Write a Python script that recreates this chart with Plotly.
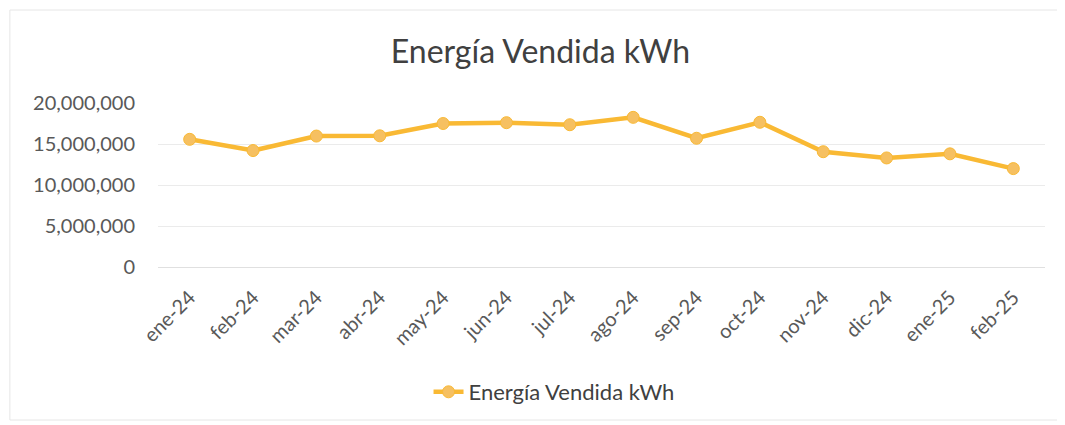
import plotly.graph_objects as go

meses = ["ene-24", "feb-24", "mar-24", "abr-24", "may-24", "jun-24", "jul-24",
         "ago-24", "sep-24", "oct-24", "nov-24", "dic-24", "ene-25", "feb-25"]
energia = [15570000, 14200000, 15970000, 16000000, 17500000, 17600000, 17350000,
           18250000, 15700000, 17650000, 14060000, 13300000, 13800000, 12000000]
y_ticks = [0, 5000000, 10000000, 15000000, 20000000]
y_labels = ["0", "5,000,000", "10,000,000", "15,000,000", "20,000,000"]

FONT = "Lato, 'Open Sans', sans-serif"

fig = go.Figure()
fig.add_trace(go.Scatter(
    x=meses, y=energia, mode="lines+markers", name="Energía Vendida kWh",
    line=dict(color="#F9B934", width=4.5),
    marker=dict(size=12, color="#F6C061", line=dict(color="#F9B934", width=1)),
))

fig.update_layout(
    width=1065, height=425,
    margin=dict(l=150, r=28, t=95, b=166, autoexpand=False),
    paper_bgcolor="white", plot_bgcolor="white",
    font=dict(family=FONT, color="#595959", size=20),
    title=dict(text="Energía Vendida kWh", x=0.5, xanchor="center",
               y=1 - 44 / 425, yanchor="middle", yref="container",
               font=dict(size=32, color="#404040", family=FONT)),
    showlegend=True,
    legend=dict(orientation="h", x=0.305, xanchor="left", y=1 - 384 / 425,
                yanchor="middle", yref="container",
                font=dict(size=22, color="#404040")),
    shapes=[dict(type="rect", xref="paper", yref="paper", x0=-0.167, x1=1.0147,
                 y0=-0.933, y1=1.567, line=dict(color="#E6E6E6", width=1))],
)
fig.update_xaxes(tickangle=-45, showgrid=False, showline=False, ticks="",
                 automargin=False, range=[-0.5, len(meses) - 0.5],
                 ticklabelstandoff=14,
                 tickfont=dict(size=20, color="#595959"))
fig.update_yaxes(range=[0, 20000000], tickvals=y_ticks, ticktext=y_labels,
                 showgrid=True, gridcolor="#EBEBEB", gridwidth=1, zeroline=True,
                 zerolinecolor="#E0E0E0", zerolinewidth=1, ticks="", showline=False,
                 ticklabelstandoff=22, automargin=False,
                 tickfont=dict(size=20, color="#595959"))

fig.write_html("out.html")
